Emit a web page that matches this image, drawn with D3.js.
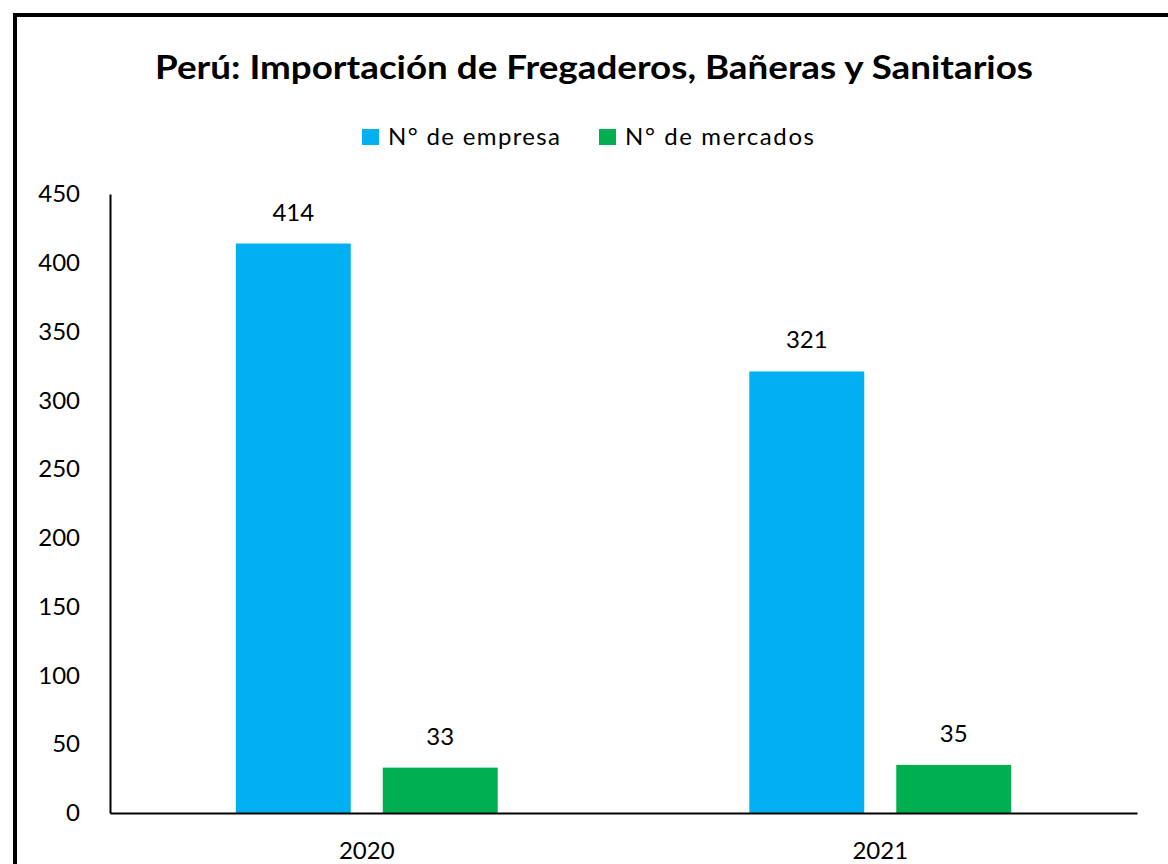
<!DOCTYPE html>
<html><head><meta charset="utf-8">
<script src="https://cdn.jsdelivr.net/npm/d3@7"></script>
<style>body{margin:0;background:#fff}svg{display:block}</style>
</head><body>
<svg id="c" width="1168" height="864"></svg>
<script>
const title = "Perú: Importación de Fregaderos, Bañeras y Sanitarios";
const categories = ["2020", "2021"];
const seriesNames = ["N° de empresa", "N° de mercados"];
const empresas = [414, 321];
const mercados = [33, 35];
const yTicks = [0, 50, 100, 150, 200, 250, 300, 350, 400, 450];
const colors = ["#00B0F0", "#00B050"];

(function(){
const font = "Lato, 'Open Sans', sans-serif";
const svg = d3.select("#c");
svg.append("rect").attr("x", 15).attr("y", 15).attr("width", 1200).attr("height", 900)
  .attr("fill", "#fff").attr("stroke", "#000").attr("stroke-width", 4);

const pLeft = 110, pRight = 1137, pTop = 194, pBottom = 813;
const y = d3.scaleLinear().domain([0, 450]).range([pBottom, pTop]);
const x0 = d3.scaleBand().domain(categories).range([pLeft, pRight]).padding(0);
const x1 = d3.scaleBand().domain(seriesNames).range([0, x0.bandwidth()]).paddingInner(0.218).paddingOuter(0.856);

const data = categories.map((c, i) => ({cat: c, vals: [empresas[i], mercados[i]]}));

const g = svg.append("g");
data.forEach(d => {
  d.vals.forEach((v, j) => {
    const bx = x0(d.cat) + x1(seriesNames[j]);
    g.append("rect").attr("x", bx).attr("y", y(v)).attr("width", x1.bandwidth())
      .attr("height", pBottom - y(v)).attr("fill", colors[j]);
    g.append("text").attr("x", bx + x1.bandwidth() / 2).attr("y", y(v) - 23)
      .attr("text-anchor", "middle").attr("font-family", font).attr("font-size", 24)
      .attr("fill", "#000").text(v);
  });
});

const yAxis = d3.axisLeft(y).tickValues(yTicks).tickSize(0).tickPadding(30);
const ya = svg.append("g").attr("transform", `translate(${pLeft},0)`).call(yAxis);
ya.select(".domain").attr("stroke", "#000").attr("stroke-width", 2);
ya.selectAll("text").attr("font-family", font).attr("font-size", 24).attr("fill", "#000");

const xAxis = d3.axisBottom(x0).tickSize(0).tickPadding(29);
const xa = svg.append("g").attr("transform", `translate(0,${pBottom})`).call(xAxis);
xa.select(".domain").attr("stroke", "#000").attr("stroke-width", 2);
xa.selectAll("text").attr("font-family", font).attr("font-size", 24).attr("fill", "#000");

svg.append("text").attr("x", 155).attr("y", 79)
  .attr("textLength", 878).attr("lengthAdjust", "spacingAndGlyphs")
  .attr("font-family", font).attr("font-weight", "bold").attr("font-size", 33)
  .attr("fill", "#000").text(title);

const legX = [362, 599];
const legW = [172, 189];
seriesNames.forEach((s, j) => {
  svg.append("rect").attr("x", legX[j]).attr("y", 129).attr("width", 17).attr("height", 16).attr("fill", colors[j]);
  svg.append("text").attr("x", legX[j] + 26).attr("y", 145).attr("font-family", font)
    .attr("textLength", legW[j]).attr("lengthAdjust", "spacing")
    .attr("font-size", 24).attr("fill", "#000").text(s);
});
})();
</script>
</body></html>
